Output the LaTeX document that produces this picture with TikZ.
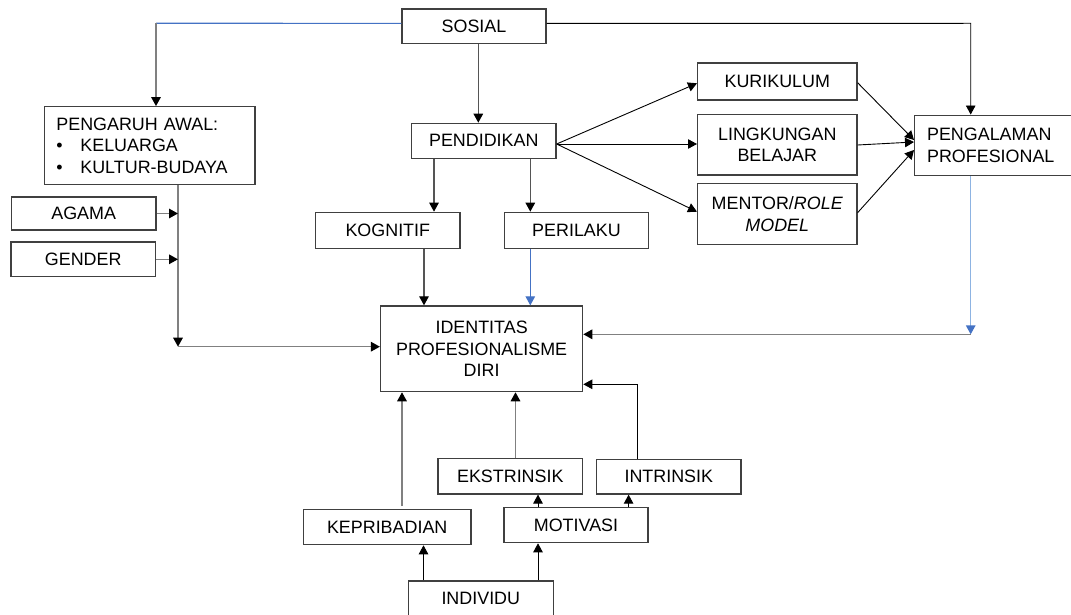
\documentclass[tikz,border=0pt]{standalone}
\usepackage{fontspec}
\setmainfont{Liberation Sans}
\usetikzlibrary{arrows.meta}
\definecolor{boxc}{HTML}{404040}
\definecolor{gline}{HTML}{808080}
\definecolor{dline}{HTML}{555555}
\definecolor{bblue}{HTML}{4472C4}
\definecolor{lblue}{HTML}{8DB3E2}
\tikzset{
  box/.style={draw=boxc, line width=1.2pt, minimum width=144.5pt, minimum height=35pt,
    inner sep=0pt, font=\fontsize{17.9}{21.5}\selectfont, align=center},
  btip/.style={-{Triangle[length=9pt,width=9.5pt,color=black]}},
  gl/.style={draw=gline, line width=1.5pt},
  dl/.style={draw=dline, line width=1.2pt},
  bl/.style={draw=black, line width=0.9pt},
  bluel/.style={draw=bblue, line width=1.2pt},
  lbluel/.style={draw=lblue, line width=1.5pt},
  bluetip/.style={-{Triangle[length=9pt,width=9.5pt,color=bblue]}},
}
\begin{document}
\begin{tikzpicture}[x=1pt,y=-1pt]
\useasboundingbox (0,0) rectangle (1071,615);
\fill[white] (0,0) rectangle (1071,615);
\clip (0,0) rectangle (1071,615);

% nodes
\node[box, minimum width=144pt, minimum height=34.7pt] (sosial) at (474,26.4) {SOSIAL};
\node[box, minimum width=210.6pt, minimum height=77.6pt, text width=186.6pt, inner xsep=12pt, align=left] (pengaruh) at (149.7,145.5)
  {PENGARUH AWAL:\\\makebox[24pt][l]{•}KELUARGA\\\makebox[24pt][l]{•}KULTUR-BUDAYA};
\node[box, minimum width=144.6pt, minimum height=33pt] (agama) at (83.7,213.5) {AGAMA};
\node[box, minimum width=144.5pt, minimum height=34.7pt] (gender) at (83.2,259.3) {GENDER};
\node[box, minimum height=35pt] (pendidikan) at (483.8,140.8) {PENDIDIKAN};
\node[box, minimum height=36pt] (kognitif) at (387.8,230.3) {KOGNITIF};
\node[box, minimum height=36pt] (perilaku) at (576.5,230.3) {PERILAKU};
\node[box, minimum width=202.2pt, minimum height=85.7pt] (identitas) at (481.6,348.8) {IDENTITAS\\PROFESIONALISME\\DIRI};
\node[box, minimum width=159.4pt, minimum height=37pt] (kurikulum) at (777.3,81.5) {KURIKULUM};
\node[box, minimum width=159.4pt, minimum height=60.7pt] (lingkungan) at (777.3,144.7) {LINGKUNGAN\\BELAJAR};
\node[box, minimum width=159.4pt, minimum height=60.6pt] (mentor) at (777.3,214) {MENTOR/\textit{ROLE}\\\textit{MODEL}};
\node[box, anchor=west, minimum height=60.7pt, text width=150pt, inner xsep=12.5pt, align=left] (pengalaman) at (914,145.5) {PENGALAMAN\\PROFESIONAL};
\node[box, minimum height=34.7pt] (intrinsik) at (668.8,476.7) {INTRINSIK};
\node[box, minimum width=144.7pt, minimum height=35.3pt] (ekstrinsik) at (510.3,476.3) {EKSTRINSIK};
\node[box, minimum width=144pt, minimum height=35pt] (motivasi) at (576,525.2) {MOTIVASI};
\node[box, minimum width=167.6pt, minimum height=35.4pt] (kepribadian) at (387.2,527) {KEPRIBADIAN};
\node[box, minimum width=144.7pt, minimum height=35pt] (individu) at (480.8,598.5) {INDIVIDU};

% helper coordinates
\coordinate (c1) at (156,23.3);
\coordinate (c2) at (178,346.7);
\coordinate (c3) at (970.7,334.3);
\coordinate (c4) at (970.7,23.3);
\coordinate (c5) at (637,384.3);
\coordinate (s1) at ([xshift=4.3pt]sosial.south);
\coordinate (p1) at ([xshift=-49.8pt]pendidikan.south);
\coordinate (p2) at ([xshift=46.5pt]pendidikan.south);
\coordinate (k1) at ([xshift=36.2pt]kognitif.south);
\coordinate (r1) at ([xshift=-46.2pt]perilaku.south);
\coordinate (e1) at ([xshift=5.2pt]ekstrinsik.north);
\coordinate (kp1) at ([xshift=14.8pt,yshift=2.6pt]kepribadian.north);
\coordinate (m1) at ([xshift=-38pt]motivasi.north);
\coordinate (m2) at ([xshift=52.6pt]motivasi.north);
\coordinate (i1) at ([xshift=-57.3pt]individu.north);
\coordinate (i2) at ([xshift=57.2pt]individu.north);

% connectors
\draw[bluel] ([yshift=3pt]sosial.west) -- (c1);
\draw[gl, btip] (c1) -- (c1 |- pengaruh.north);
\draw[dl, btip] (s1) -- (s1 |- pendidikan.north);
\draw[bl, btip] ([yshift=3pt]sosial.east) -- (c4) -- (c4 |- pengalaman.north);

\draw[gl, btip] (pengaruh.south -| c2) -- (c2);
\draw[gl, btip] (c2) -- (c2 -| identitas.west);
\draw[gl, btip] (agama.east) -- (agama.east -| c2);
\draw[gl, btip] (gender.east) -- (gender.east -| c2);

\draw[dl, btip] (p1) -- (p1 |- kognitif.north);
\draw[dl, btip] (p2) -- (p2 |- perilaku.north);
\draw[dl, btip] (k1) -- (k1 |- identitas.north);
\draw[bluel, bluetip] (r1) -- (r1 |- identitas.north);

\draw[bl, btip] ([yshift=-3.2pt]pendidikan.east) -- ([yshift=-1.8pt]kurikulum.west);
\draw[bl, btip] ([yshift=-3.2pt]pendidikan.east) -- ([yshift=0.7pt]lingkungan.west);
\draw[bl, btip] ([yshift=-3.2pt]pendidikan.east) -- ([yshift=2.3pt]mentor.west);

\draw[bl, btip] ([yshift=-1.2pt]kurikulum.east) -- ([yshift=5.5pt]pengalaman.west);
\draw[bl, btip] ([yshift=-0.3pt]lingkungan.east) -- ([yshift=3.5pt]pengalaman.west);
\draw[bl, btip] ([yshift=1.3pt]mentor.east) -- ([yshift=-4.5pt]pengalaman.west);

\draw[lbluel, bluetip] (c3 |- pengalaman.south) -- (c3);
\draw[gl, btip] (c3) -- (c3 -| identitas.east);
\draw[bl, btip] (c5 |- intrinsik.north) -- (c5) -- (c5 -| identitas.east);

\draw[gl, btip] (e1) -- (e1 |- identitas.south);
\draw[gl, btip] (kp1) -- (kp1 |- identitas.south);
\draw[bl, btip] (m1) -- (m1 |- ekstrinsik.south);
\draw[bl, btip] (m2) -- (m2 |- intrinsik.south);
\draw[bl, btip] (i1) -- (i1 |- kepribadian.south);
\draw[bl, btip] (i2) -- (i2 |- motivasi.south);
\end{tikzpicture}
\end{document}
